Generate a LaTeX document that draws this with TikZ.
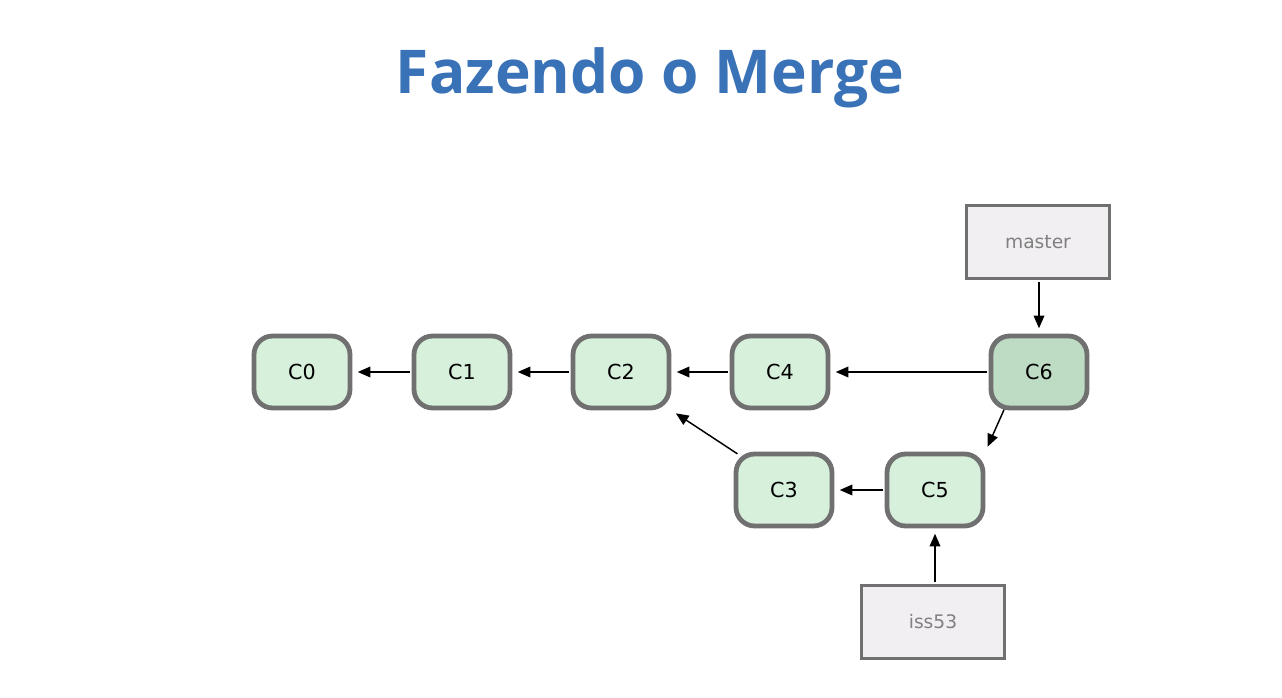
\documentclass[tikz,border=0pt]{standalone}
\usepackage{fontspec}
\setmainfont{DejaVu Sans}
\newfontfamily\titlefont{Open Sans}
\usetikzlibrary{arrows.meta}
\definecolor{titleblue}{HTML}{3A72B8}
\definecolor{commitfill}{HTML}{D6F0DC}
\definecolor{mergefill}{HTML}{BEDCC4}
\definecolor{bordergray}{HTML}{707070}
\definecolor{branchfill}{HTML}{F1EFF1}
\definecolor{branchtext}{HTML}{808080}
\tikzset{
  commit/.style={draw=bordergray, line width=3.6pt, fill=commitfill, rounded corners=14pt,
    minimum width=72pt, minimum height=54pt, inner sep=0pt, font=\fontsize{15.5}{17}\selectfont},
  mergecommit/.style={commit, fill=mergefill},
  branch/.style={draw=bordergray, line width=2.6pt, fill=branchfill, minimum width=107pt,
    minimum height=55pt, inner sep=0pt, text=branchtext, font=\fontsize{14}{16}\selectfont},
  parent/.style={-{Triangle[length=9.5pt,width=8pt]}, line width=1.1pt, shorten >=4pt, shorten <=1pt}
}
\begin{document}
\begin{tikzpicture}[x=0.75pt,y=-0.75pt]
\useasboundingbox (0,0) rectangle (1282,698);
\node[font=\titlefont\bfseries\fontsize{45.3}{50}\selectfont, text=titleblue, anchor=base] (title) at (650,94) {Fazendo o Merge};
\node[commit] (c0) at (302,372) {C0};
\node[commit] (c1) at (462,372) {C1};
\node[commit] (c2) at (621,372) {C2};
\node[commit] (c4) at (780,372) {C4};
\node[mergecommit] (c6) at (1039,372) {C6};
\node[commit] (c3) at (784,490) {C3};
\node[commit] (c5) at (935,490) {C5};
\node[branch] (master) at (1038,242) {master};
\node[branch] (iss) at (933,622) {iss53};
\draw[parent] (c1) -- (c0);
\draw[parent] (c2) -- (c1);
\draw[parent] (c4) -- (c2);
\draw[parent] (c6) -- (c4);
\draw[parent] (c5) -- (c3);
\draw[parent] (c3.north west) ++(5,3) coordinate (c3a) -- (c2.south east);
\draw[parent] (c6.south |- master.south) coordinate (ma) -- (c6.north);
\draw[parent] (c5.south |- iss.north) coordinate (ia) -- (c5.south);
\draw[parent] (c6.south west) ++(16,-2) coordinate (c6a) -- (c5.north east);
\end{tikzpicture}
\end{document}
